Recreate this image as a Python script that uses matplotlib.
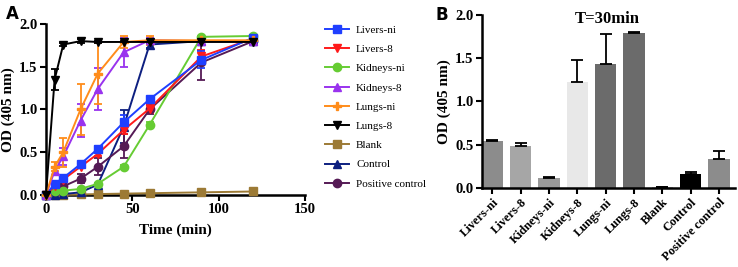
import numpy as np
import matplotlib.pyplot as plt
from matplotlib.lines import Line2D

plt.rcParams['font.family'] = ['Liberation Serif', 'DejaVu Serif']

# time course data (panel A)
time = [0, 5, 10, 20, 30, 45, 60, 90, 120]

livers_ni = [0, 0.13, 0.20, 0.36, 0.54, 0.85, 1.12, 1.58, 1.84]
livers_ni_err = [0, 0.02, 0.02, 0.02, 0.03, 0.08, 0.02, 0.10, 0.03]
livers_8 = [0, 0.10, 0.18, 0.33, 0.48, 0.76, 1.01, 1.62, 1.83]
livers_8_err = [0, 0.02, 0.02, 0.02, 0.02, 0.05, 0.05, 0.08, 0.03]
kidneys_ni = [0, 0.04, 0.05, 0.07, 0.13, 0.33, 0.82, 1.85, 1.86]
kidneys_ni_err = [0, 0.01, 0.01, 0.01, 0.01, 0.02, 0.03, 0.01, 0.01]
kidneys_8 = [0, 0.28, 0.45, 0.87, 1.24, 1.67, 1.81, 1.80, 1.80]
kidneys_8_err = [0, 0.05, 0.10, 0.19, 0.25, 0.17, 0.03, 0.02, 0.02]
lungs_ni = [0, 0.33, 0.50, 1.00, 1.42, 1.79, 1.81, 1.81, 1.81]
lungs_ni_err = [0, 0.05, 0.17, 0.30, 0.36, 0.07, 0.05, 0.02, 0.02]
lungs_8 = [0, 1.35, 1.76, 1.80, 1.79, 1.79, 1.79, 1.79, 1.79]
lungs_8_err = [0, 0.12, 0.02, 0.02, 0.01, 0.01, 0.01, 0.01, 0.01]
blank = [0, 0.0, 0.0, 0.005, 0.01, 0.015, 0.02, 0.03, 0.04]
blank_err = [0, 0, 0, 0, 0, 0, 0, 0, 0]
control = [0, 0.0, 0.01, 0.03, 0.12, 0.80, 1.76, 1.80, 1.80]
control_err = [0, 0.0, 0.01, 0.01, 0.02, 0.19, 0.04, 0.02, 0.02]
pos_control = [0, 0.05, 0.10, 0.19, 0.33, 0.57, 1.00, 1.55, 1.80]
pos_control_err = [0, 0.02, 0.03, 0.05, 0.10, 0.14, 0.05, 0.20, 0.05]

series = [
    ('Livers-ni', livers_ni, livers_ni_err, '#1f3fff', 's'),
    ('Livers-8', livers_8, livers_8_err, '#ff1a1a', 'v'),
    ('Kidneys-ni', kidneys_ni, kidneys_ni_err, '#66cc33', 'o'),
    ('Kidneys-8', kidneys_8, kidneys_8_err, '#9933ee', '^'),
    ('Lungs-ni', lungs_ni, lungs_ni_err, '#ff8c1a', 'P'),
    ('Lungs-8', lungs_8, lungs_8_err, '#000000', 'v'),
    ('Blank', blank, blank_err, '#9c7a35', 's'),
    ('Control', control, control_err, '#0d1f80', '^'),
    ('Positive control', pos_control, pos_control_err, '#551a55', 'o'),
]
draw_order = [6, 7, 8, 2, 1, 0, 3, 4, 5]

# bar data at T=30min (panel B)
groups = ['Livers-ni', 'Livers-8', 'Kidneys-ni', 'Kidneys-8', 'Lungs-ni',
          'Lungs-8', 'Blank', 'Control', 'Positive control']
od30 = [0.54, 0.48, 0.12, 1.23, 1.43, 1.79, 0.01, 0.16, 0.33]
od30_err = [0.01, 0.04, 0.01, 0.25, 0.35, 0.01, 0.005, 0.03, 0.10]
bar_colors = ['#8c8c8c', '#a6a6a6', '#9a9a9a', '#e8e8e8', '#6b6b6b',
              '#6b6b6b', '#bfbfbf', '#000000', '#8c8c8c']

fig = plt.figure(figsize=(7.38, 2.67), dpi=100)
axA = fig.add_axes([0.0623, 0.27, 0.351, 0.64])
axB = fig.add_axes([0.653, 0.296, 0.343, 0.648])

tickfont = dict(fontsize=10.5, fontweight='bold')

# ---- panel A
for i in draw_order:
    name, y, err, c, m = series[i]
    ms = 6 if m in ('s', 'o') else 5.5
    axA.errorbar(time, y, yerr=err, color=c, marker=m, markersize=ms,
                 linewidth=1.4, elinewidth=1.3, capsize=3, capthick=1.3,
                 clip_on=False, zorder=3)

axA.set_xlim(0, 150)
axA.set_ylim(0, 2.0)
axA.set_xticks([0, 50, 100, 150])
axA.set_yticks([0, 0.5, 1.0, 1.5, 2.0])
axA.set_yticklabels(['0.0', '0.5', '1.0', '1.5', '2.0'], **tickfont)
axA.set_xticklabels(['0', '50', '100', '150'], **tickfont)
axA.set_xlabel('Time (min)', fontsize=11, fontweight='bold', labelpad=5)
axA.set_ylabel('OD (405 nm)', fontsize=11, fontweight='bold', labelpad=3)
for s in ['top', 'right']:
    axA.spines[s].set_visible(False)
for s in ['left', 'bottom']:
    axA.spines[s].set_linewidth(1.8)
axA.tick_params(width=1.5, length=4, pad=2)

handles = []
for name, y, err, c, m in series:
    handles.append(Line2D([0], [0], color=c, marker=m, markersize=6,
                          linewidth=1.4, label=name))
axA.legend(handles=handles, loc='upper left', bbox_to_anchor=(1.06, 1.02),
           frameon=False, fontsize=8, handlelength=2.2, labelspacing=0.85,
           handletextpad=0.6, borderaxespad=0)

fig.text(0.008, 0.93, 'A', fontsize=12, fontweight='bold', family='DejaVu Sans')

# ---- panel B
xb = np.arange(len(groups))
axB.bar(xb, od30, width=0.75, color=bar_colors, zorder=2)
axB.errorbar(xb, od30, yerr=[np.zeros(len(od30)), od30_err], fmt='none',
             ecolor='black', elinewidth=1.3, capsize=4, capthick=1.3, zorder=3)
axB.set_xlim(-0.37, 8.57)
axB.set_ylim(0, 2.0)
axB.set_yticks([0, 0.5, 1.0, 1.5, 2.0])
axB.set_yticklabels(['0.0', '0.5', '1.0', '1.5', '2.0'], **tickfont)
axB.set_xticks(xb)
axB.set_xticklabels(groups, rotation=45, ha='right', rotation_mode='anchor',
                    fontsize=9, fontweight='bold')
axB.set_ylabel('OD (405 nm)', fontsize=11, fontweight='bold', labelpad=3)
for s in ['top', 'right']:
    axB.spines[s].set_visible(False)
for s in ['left', 'bottom']:
    axB.spines[s].set_linewidth(1.8)
axB.tick_params(width=1.5, length=4, pad=2)

fig.text(0.823, 0.93, 'T=30min', fontsize=12, fontweight='bold',
         ha='center', va='center')
fig.text(0.59, 0.925, 'B', fontsize=12, fontweight='bold', family='DejaVu Sans')

fig.savefig('out.png', dpi=100)
